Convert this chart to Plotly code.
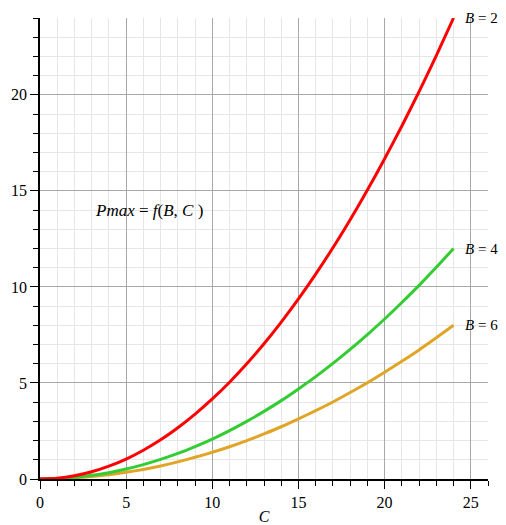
import plotly.graph_objects as go

C = list(range(0, 25))
P_B2 = [0, 0.04, 0.17, 0.38, 0.67, 1.04, 1.5, 2.04, 2.67, 3.38, 4.17, 5.04, 6.0, 7.04,
        8.17, 9.38, 10.67, 12.04, 13.5, 15.04, 16.67, 18.38, 20.17, 22.04, 24.0]
P_B4 = [0, 0.02, 0.08, 0.19, 0.33, 0.52, 0.75, 1.02, 1.33, 1.69, 2.08, 2.52, 3.0, 3.52,
        4.08, 4.69, 5.33, 6.02, 6.75, 7.52, 8.33, 9.19, 10.08, 11.02, 12.0]
P_B6 = [0, 0.01, 0.06, 0.13, 0.22, 0.35, 0.5, 0.68, 0.89, 1.13, 1.39, 1.68, 2.0, 2.35,
        2.72, 3.13, 3.56, 4.01, 4.5, 5.01, 5.56, 6.13, 6.72, 7.35, 8.0]
labels = ["B = 2", "B = 4", "B = 6"]
colors = ["#ff0000", "#33cc33", "#e0a526"]

series = [P_B2, P_B4, P_B6]

fig = go.Figure()
for ys, col in reversed(list(zip(series, colors))):
    fig.add_trace(go.Scatter(x=C, y=ys, mode="lines",
                             line=dict(color=col, width=3, shape="spline", smoothing=0.6),
                             showlegend=False))

serif = "Liberation Serif, Times New Roman, serif"
for ys, lab in zip(series, labels):
    b, rest = lab.split(" ", 1)
    fig.add_annotation(x=C[-1], y=ys[-1], text=f"<i>{b}</i> {rest}", showarrow=False,
                       xanchor="left", xshift=9, font=dict(family=serif, size=15, color="#000"))

fig.add_annotation(x=6.3, y=14, text="<i>Pmax</i> = <i>f</i>(<i>B</i>, <i>C</i> )", showarrow=False,
                   font=dict(family=serif, size=17, color="#000"))

axis_common = dict(
    showline=True, linecolor="#000", linewidth=1.5,
    ticks="outside", ticklen=8, tickcolor="#000", tickwidth=1,
    showgrid=True, gridcolor="#a8a8a8", gridwidth=1,
    zeroline=False, automargin=False,
    tickfont=dict(family=serif, size=16, color="#000"),
    minor=dict(dtick=1, ticks="outside", ticklen=5, tickcolor="#000",
               showgrid=True, gridcolor="#e6e6e6", gridwidth=1),
)

# the page body adds an 8px offset, so the figure is sized to fit the window
fig.update_layout(
    width=498, height=517,
    margin=dict(l=32, r=18, t=10, b=46),
    paper_bgcolor="white", plot_bgcolor="white",
    xaxis=dict(range=[0, 26], dtick=5, tick0=0,
               title=dict(text="<i>C</i>", font=dict(family=serif, size=16, color="#000"), standoff=3),
               **axis_common),
    yaxis=dict(range=[0, 24], dtick=5, tick0=0, **axis_common),
)

fig.write_html("out.html")
